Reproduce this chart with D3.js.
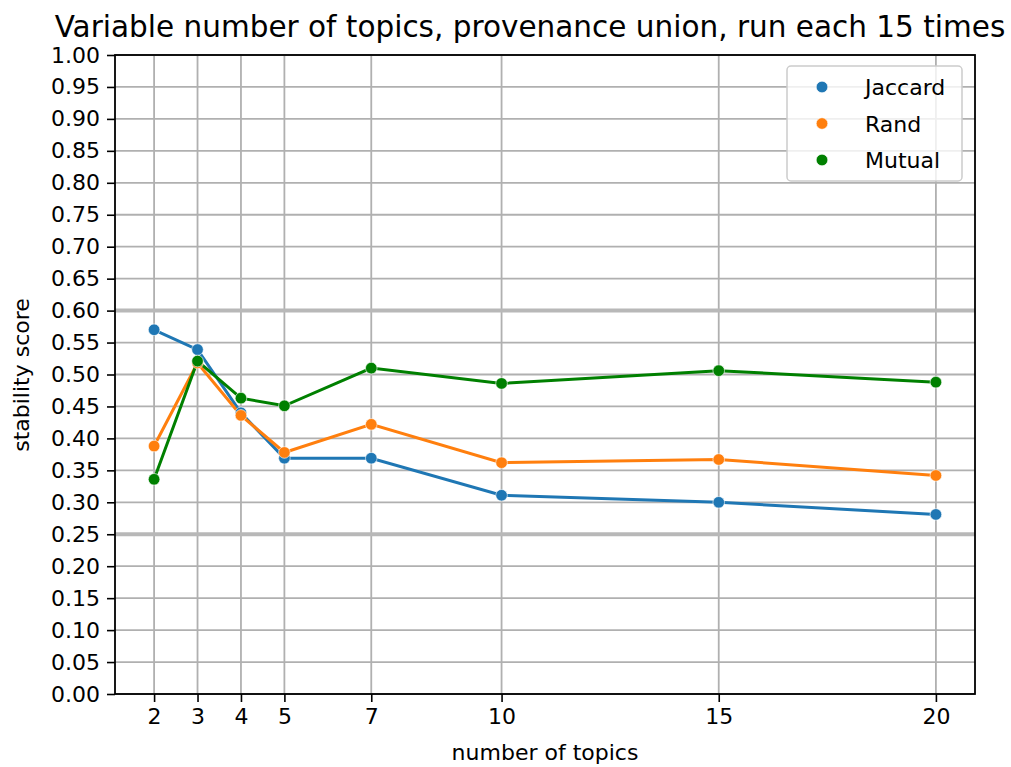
<!DOCTYPE html>
<html lang='en'>
<head>
    <meta charset='UTF-8'>
    <title>Variable number of topics</title>
    <script src='https://d3js.org/d3.v7.min.js'></script>
    <style>
        body { margin: 0; background: #fff; }
        text { font-family: 'DejaVu Sans', sans-serif; fill: #000; }
    </style>
</head>
<body>
<svg id='chart' width='1011' height='767'></svg>
<script>
// values
const topics  = [2, 3, 4, 5, 7, 10, 15, 20]
const jaccard = [0.570, 0.539, 0.440, 0.369, 0.369, 0.311, 0.300, 0.281]
const rand    = [0.388, 0.518, 0.436, 0.378, 0.422, 0.362, 0.367, 0.342]
const mutual  = [0.336, 0.521, 0.463, 0.451, 0.510, 0.486, 0.506, 0.488]
const seriesNames = ['Jaccard', 'Rand', 'Mutual']
const refLines = [0.60, 0.25]
const yTicks = d3.range(0, 21).map(i => i * 0.05)

const colors = {Jaccard: '#1f77b4', Rand: '#ff7f0e', Mutual: '#008000'}
const series = [jaccard, rand, mutual].map((vals, i) => ({
    name: seriesNames[i],
    points: topics.map((t, j) => ({x: t, y: vals[j]}))
}))

const m = {left: 115, right: 975, top: 55, bottom: 694}
const svg = d3.select('#chart')

const x = d3.scaleLinear().domain([1.1, 20.9]).range([m.left, m.right])
const y = d3.scaleLinear().domain([0, 1]).range([m.bottom, m.top])

// grid
const grid = svg.append('g')
grid.selectAll('line.gx').data(topics).enter().append('line')
    .attr('x1', d => x(d)).attr('x2', d => x(d))
    .attr('y1', m.top).attr('y2', m.bottom)
    .attr('stroke', '#b0b0b0').attr('stroke-width', 1.8)
grid.selectAll('line.gy').data(yTicks).enter().append('line')
    .attr('x1', m.left).attr('x2', m.right)
    .attr('y1', d => y(d)).attr('y2', d => y(d))
    .attr('stroke', '#b0b0b0').attr('stroke-width', 1.8)

// thick reference lines
svg.append('g').selectAll('line').data(refLines).enter().append('line')
    .attr('x1', m.left).attr('x2', m.right)
    .attr('y1', d => y(d)).attr('y2', d => y(d))
    .attr('stroke', '#b8b8b8').attr('stroke-width', 4)

// lines then markers
const line = d3.line().x(d => x(d.x)).y(d => y(d.y))
svg.append('g').selectAll('path').data(series).enter().append('path')
    .attr('d', d => line(d.points))
    .attr('fill', 'none')
    .attr('stroke', d => colors[d.name])
    .attr('stroke-width', 3)

series.forEach(s => {
    svg.append('g').selectAll('circle').data(s.points).enter().append('circle')
        .attr('cx', d => x(d.x)).attr('cy', d => y(d.y)).attr('r', 5.8)
        .attr('fill', colors[s.name])
        .attr('stroke', '#fff').attr('stroke-width', 0.6)
})

// axes
const xAxis = svg.append('g').attr('transform', `translate(0,${m.bottom})`)
    .call(d3.axisBottom(x).tickValues(topics).tickSize(8).tickPadding(6).tickSizeOuter(0))
const yAxis = svg.append('g').attr('transform', `translate(${m.left},0)`)
    .call(d3.axisLeft(y).tickValues(yTicks).tickFormat(d3.format('.2f')).tickSize(8).tickPadding(7).tickSizeOuter(0))
;[xAxis, yAxis].forEach(a => {
    a.select('.domain').remove()
    a.selectAll('.tick line').attr('stroke', '#000').attr('stroke-width', 1.6)
    a.selectAll('.tick text').style('font-size', '22px').style('font-family', 'DejaVu Sans').attr('fill', '#000')
})

// frame
svg.append('rect')
    .attr('x', m.left).attr('y', m.top)
    .attr('width', m.right - m.left).attr('height', m.bottom - m.top)
    .attr('fill', 'none').attr('stroke', '#000').attr('stroke-width', 1.8)

// titles
svg.append('text').attr('x', 530).attr('y', 37).attr('text-anchor', 'middle')
    .style('font-size', '29.5px').text('Variable number of topics, provenance union, run each 15 times')
svg.append('text').attr('x', 545).attr('y', 760).attr('text-anchor', 'middle')
    .style('font-size', '22px').text('number of topics')
svg.append('text').attr('transform', 'translate(29,375) rotate(-90)').attr('text-anchor', 'middle')
    .style('font-size', '22px').text('stability score')

// legend
const lg = svg.append('g').attr('transform', 'translate(787,66)')
lg.append('rect').attr('width', 175).attr('height', 115).attr('rx', 4)
    .attr('fill', '#fff').attr('fill-opacity', 0.8)
    .attr('stroke', '#cccccc').attr('stroke-width', 1.5)
const items = lg.selectAll('g.item').data(seriesNames).enter().append('g')
    .attr('transform', (d, i) => `translate(0,${21 + i * 36.5})`)
items.append('circle').attr('cx', 35).attr('r', 5.8).attr('fill', d => colors[d])
    .attr('stroke', '#fff').attr('stroke-width', 0.6)
items.append('text').attr('x', 78).attr('y', 8).style('font-size', '22px').text(d => d)
</script>
</body>
</html>
